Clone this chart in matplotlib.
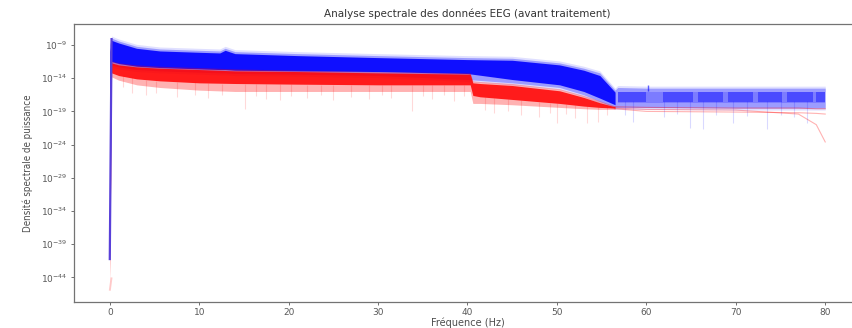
import matplotlib
matplotlib.use("Agg")
import matplotlib.pyplot as plt
import numpy as np

# values, log10 of the power spectral density
blue_f = [0, 0.2, 1, 3, 5.6, 10, 12.3, 12.9, 14, 21, 30, 40, 45, 50.3, 53, 54.8, 56.5, 56.8, 60, 70, 80]
blue_out_hi = [-9.0, -7.95, -8.4, -9.2, -9.6, -9.8, -9.9, -9.5, -10.0, -10.3, -10.6, -10.9, -11.0, -11.7, -12.5, -13.2, -15.8, -15.4, -15.5, -15.5, -15.5]
blue_core_hi = [-10.0, -8.3, -8.7, -9.5, -9.9, -10.1, -10.2, -9.8, -10.3, -10.6, -10.9, -11.2, -11.3, -12.0, -12.8, -13.6, -16.1, -16.3, -16.3, -16.3, -16.3]
blue_core_lo = [-38.0, -11.5, -11.8, -12.2, -12.4, -12.6, -12.7, -12.7, -12.8, -12.9, -13.0, -13.3, -14.2, -15.0, -16.0, -17.0, -18.0, -17.5, -17.5, -17.5, -17.5]
blue_out_lo = [-41.4, -12.0, -12.3, -12.7, -12.9, -13.1, -13.2, -13.2, -13.3, -13.4, -13.6, -14.2, -14.7, -15.4, -16.5, -17.5, -18.4, -18.4, -18.4, -18.5, -18.5]

# darker blocks of the blue band above 56 Hz
blk_start = [56.8, 61.9, 65.8, 69.1, 72.5, 75.7, 79.0]
blk_end = [60.0, 65.2, 68.6, 71.9, 75.2, 78.6, 80.0]
blk_hi = -16.1
blk_lo = -17.6

red_f = [0, 0.2, 1, 3, 5.6, 10, 14, 21, 30, 40.3, 40.6, 41.4, 45, 50.3, 53, 54.8, 56.5]
red_out_hi = [-40.0, -11.4, -11.7, -12.0, -12.2, -12.4, -12.6, -12.8, -13.0, -13.2, -14.4, -14.5, -14.8, -15.6, -16.6, -17.4, -18.2]
red_core_hi = [-41.0, -11.7, -12.0, -12.3, -12.5, -12.7, -12.9, -13.0, -13.2, -13.4, -14.7, -14.8, -15.1, -15.9, -16.9, -17.7, -18.3]
red_core_lo = [-44.0, -13.2, -13.6, -14.1, -14.4, -14.7, -14.8, -14.9, -15.0, -15.0, -16.6, -16.8, -17.2, -17.8, -18.2, -18.4, -18.5]
red_out_lo = [-46.0, -13.8, -14.3, -15.0, -15.4, -15.8, -16.0, -16.0, -16.0, -16.0, -17.8, -17.8, -18.0, -18.4, -18.6, -18.7, -18.7]

# red traces above 56 Hz
red_tail_f = [56.5, 60, 70, 77, 79, 80]
red_tail_a = [-18.3, -18.4, -18.5, -18.5, -18.6, -18.6]
red_tail_b = [-18.6, -19.0, -19.1, -19.2, -19.3, -19.4]
red_tail_c = [-18.5, -18.7, -18.8, -19.4, -21.0, -23.6]

# downward spikes: frequency, start, end
red_spk_f = [1.5, 2.5, 4.0, 5.2, 7.5, 9.5, 11.0, 12.6, 15.1, 16.4, 17.5, 19.0, 20.3, 22.0, 23.6, 25.0, 27.0, 29.0,
             30.4, 31.5, 33.8, 35.0, 36.0, 37.4, 38.5, 39.6, 42.0, 43.0, 44.5, 46.0, 48.0, 49.2, 50.0, 51.0, 52.0, 53.4, 54.6, 55.6]
red_spk_a = [-13.5, -13.8, -14.2, -14.4, -14.6, -14.6, -14.7, -14.8, -14.8, -14.8, -14.9, -14.9, -14.9, -15.0, -15.0, -15.0, -15.0, -15.0,
             -15.0, -15.0, -15.0, -15.0, -15.0, -15.0, -15.0, -15.0, -16.8, -17.0, -17.2, -17.3, -17.6, -17.7, -17.8, -17.9, -18.0, -18.2, -18.3, -18.4]
red_spk_b = [-15.4, -16.2, -16.6, -16.3, -16.9, -16.5, -17.0, -16.6, -18.6, -16.7, -17.2, -17.3, -16.7, -17.0, -16.6, -17.3, -16.8, -17.1,
             -16.6, -17.0, -18.9, -16.7, -17.1, -16.6, -17.4, -16.7, -18.8, -19.2, -18.9, -19.5, -19.8, -19.3, -20.7, -19.4, -20.0, -20.7, -20.6, -19.6]

blue_spk_f = [57.6, 58.5, 62.0, 63.4, 64.9, 66.3, 67.8, 69.7, 71.2, 73.5, 75.0, 76.5, 78.0]
blue_spk_a = [-17.5, -17.5, -17.5, -17.5, -17.5, -17.5, -17.5, -17.5, -17.5, -17.5, -17.5, -17.5, -17.5]
blue_spk_b = [-19.6, -20.6, -19.8, -19.4, -21.5, -21.6, -19.5, -20.8, -19.7, -21.6, -19.6, -19.9, -20.7]

line_hz = 60.2
line_lo, line_hi = -16.0, -15.0

ticks_y = [-44, -39, -34, -29, -24, -19, -14, -9]
ticks_x = [0, 10, 20, 30, 40, 50, 60, 70, 80]


def p(v):
    return 10.0 ** np.asarray(v, dtype=float)


fig = plt.figure(figsize=(8.52, 3.28), dpi=100)
ax = fig.add_axes([74 / 852, 26 / 328, 787 / 852, 278 / 328])

B = (0, 0, 1)
R = (1, 0, 0)

# blue
ax.fill_between(blue_f, p(np.array(blue_out_lo) - 0.3), p(np.array(blue_out_hi) + 0.3), color=B, alpha=0.12, lw=0, zorder=1)
ax.fill_between(blue_f, p(blue_out_lo), p(blue_out_hi), color=B, alpha=0.3, lw=0, zorder=1)
ax.fill_between(blue_f[:17], p(blue_core_lo[:17]), p(blue_core_hi[:17]), color=B, alpha=0.9, lw=0, zorder=2)
ax.fill_between(blue_f[17:], p(np.array(blue_core_lo[17:]) - 0.3), p(np.array(blue_core_hi[17:]) + 0.2), color=B, alpha=0.2, lw=0, zorder=2)
for a, b in zip(blk_start, blk_end):
    ax.fill_between([a, b], p([blk_lo, blk_lo]), p([blk_hi, blk_hi]), color=B, alpha=0.4, lw=0, zorder=2)
ax.vlines(blue_spk_f, p(blue_spk_a), p(blue_spk_b), color=B, alpha=0.15, lw=0.8, zorder=1)
ax.vlines([line_hz], p(line_lo), p(line_hi), color=B, alpha=0.6, lw=1.0, zorder=2)
ax.plot([blue_f[0], blue_f[1]], p([blue_out_lo[0], blue_out_hi[1]]), color=(0.35, 0.25, 0.85),
        lw=1.6, solid_capstyle="butt", zorder=5)

# red
ax.vlines(red_spk_f, p(red_spk_a), p(red_spk_b), color=R, alpha=0.15, lw=0.8, zorder=3)
ax.fill_between(red_f, p(red_out_lo), p(red_out_hi), color=R, alpha=0.3, lw=0, zorder=3)
ax.fill_between(red_f, p(red_core_lo), p(red_core_hi), color=R, alpha=0.85, lw=0, zorder=4)
ax.plot([red_f[0], red_f[1]], p([red_out_lo[0], red_core_lo[0]]), color=R, alpha=0.2, lw=1.4,
        solid_capstyle="butt", zorder=4)
for tr, al in [(red_tail_a, 0.35), (red_tail_b, 0.3), (red_tail_c, 0.3)]:
    ax.plot(red_tail_f, p(tr), color=R, alpha=al, lw=0.8, zorder=3)

ax.set_yscale("log")
ax.set_xlim(-4, 84)
ax.set_ylim(10 ** -47.7, 10 ** -5.84)
ax.set_yticks(p(ticks_y))
ax.set_yticklabels([r"$10^{%d}$" % t for t in ticks_y])
ax.minorticks_off()
ax.set_xticks(ticks_x)
ax.tick_params(labelsize=6.5, colors="0.35", length=2.5, width=0.6, pad=2)
for s in ax.spines.values():
    s.set_color("0.45")
    s.set_linewidth(0.9)
ax.spines["right"].set_visible(False)

ax.set_title("Analyse spectrale des données EEG (avant traitement)", fontsize=7.5, color="0.2", pad=5)
ax.set_xlabel("Fréquence (Hz)", fontsize=7, color="0.3", labelpad=0)
ax.set_ylabel("Densité spectrale de puissance", fontsize=7, color="0.3", fontstretch="condensed", labelpad=6)

fig.savefig("out.png", dpi=100)
